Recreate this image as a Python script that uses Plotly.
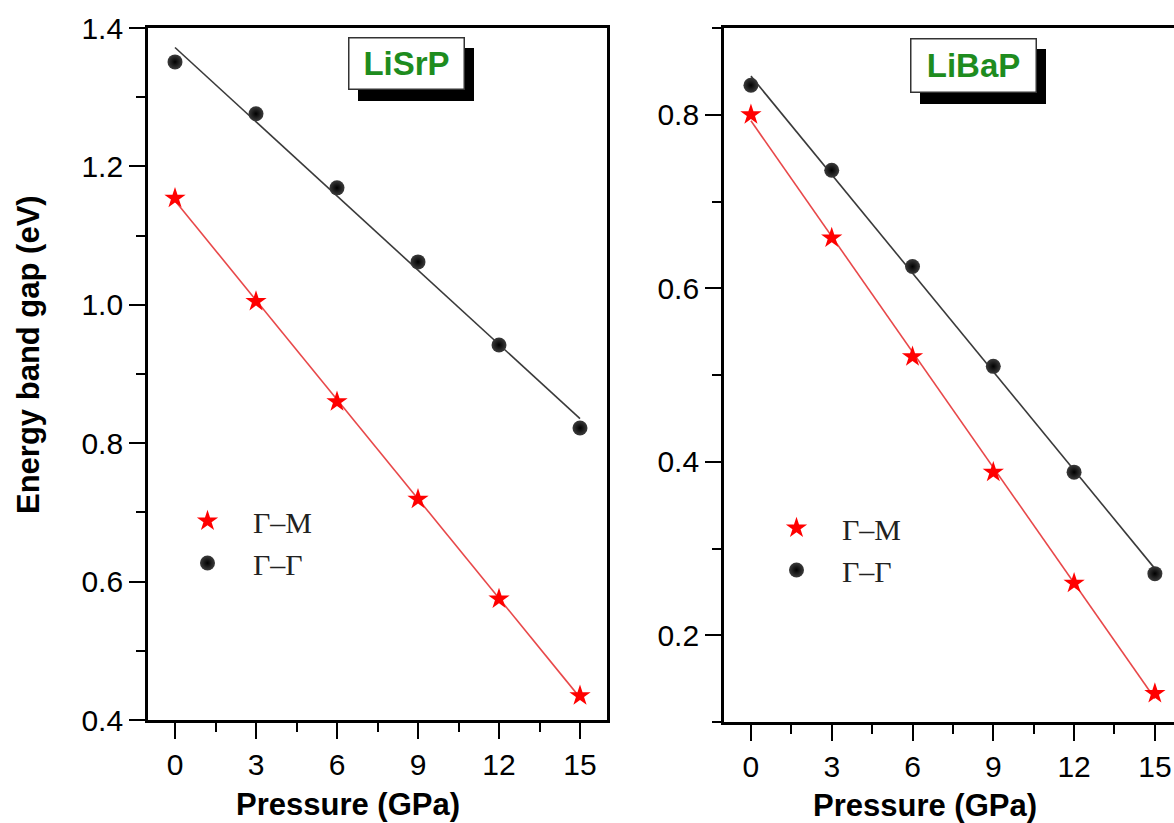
import numpy as np
import plotly.graph_objects as go

# ---------------- data ----------------
pressure = [0, 3, 6, 9, 12, 15]
lisrp_gm = [1.154, 1.005, 0.860, 0.719, 0.575, 0.435]
lisrp_gg = [1.351, 1.276, 1.169, 1.062, 0.942, 0.822]
libap_gm = [0.800, 0.658, 0.521, 0.388, 0.260, 0.133]
libap_gg = [0.834, 0.736, 0.625, 0.510, 0.388, 0.271]
x_ticks = [0, 3, 6, 9, 12, 15]
panel_titles = ["LiSrP", "LiBaP"]
series_names = ["Γ–M", "Γ–Γ"]

W, H = 1174, 823
def px(x):
    return x / W
def py(y):
    return 1 - y / H

RED = "#ff0000"
RED_LINE = "#e8484a"
BLACK_LINE = "#3a3a3a"

fig = go.Figure()

def add_panel(xa, ya, gm, gg, leg):
    xs = np.array(pressure, dtype=float)
    for vals, col in ((gm, RED_LINE), (gg, BLACK_LINE)):
        k, b = np.polyfit(xs, np.array(vals), 1)
        xl = np.array([xs.min(), xs.max()])
        fig.add_trace(go.Scatter(x=xl, y=k * xl + b, mode="lines",
                                 line=dict(color=col, width=1.6),
                                 xaxis=xa, yaxis=ya, showlegend=False,
                                 hoverinfo="skip"))
    fig.add_trace(go.Scatter(x=pressure, y=gm, mode="markers", name=series_names[0],
                             marker=dict(symbol="star", size=16, color=RED,
                                         line=dict(width=0)),
                             xaxis=xa, yaxis=ya, legend=leg, legendgroup=leg + "a"))
    fig.add_trace(go.Scatter(x=pressure, y=gg, mode="markers", name=series_names[1],
                             marker=dict(symbol="circle", size=15, color="#3c3c3c",
                                         gradient=dict(type="radial", color="#000000"),
                                         line=dict(width=0)),
                             xaxis=xa, yaxis=ya, legend=leg, legendgroup=leg + "b"))

add_panel("x", "y", lisrp_gm, lisrp_gg, "legend")
add_panel("x2", "y2", libap_gm, libap_gg, "legend2")

tick_font = dict(family="Liberation Sans, Arial", size=30, color="black")
common_x = dict(tickmode="array", tickvals=x_ticks, ticktext=[str(t) for t in x_ticks],
                ticks="outside", ticklen=16, tickwidth=2, tickcolor="black",
                showline=True, linecolor="black", linewidth=2.8, mirror=True,
                showgrid=False, zeroline=False, tickfont=tick_font, automargin=False,
                minor=dict(dtick=1.5, tick0=0, ticks="outside", ticklen=9,
                           tickwidth=2, tickcolor="black", showgrid=False))
common_y = dict(ticks="outside", ticklen=16, tickwidth=2, tickcolor="black",
                showline=True, linecolor="black", linewidth=2.8,
                showgrid=False, zeroline=False, tickfont=tick_font, automargin=False,
                tickformat=".1f",
                minor=dict(dtick=0.1, ticks="outside", ticklen=9,
                           tickwidth=2, tickcolor="black", showgrid=False))

legend_font = dict(family="Liberation Serif, Times New Roman", size=30, color="#222")

fig.update_layout(
    width=W, height=H,
    margin=dict(l=0, r=0, t=0, b=0),
    paper_bgcolor="white", plot_bgcolor="white",
    xaxis=dict(common_x, domain=[px(148), px(607)], range=[-1, 16], anchor="y"),
    yaxis=dict(common_y, domain=[py(720), py(28)], range=[0.4, 1.4], anchor="x",
               mirror=True, tick0=0.4, dtick=0.2,
               minor=dict(common_y["minor"], tick0=0.4)),
    xaxis2=dict(common_x, domain=[px(724), 1.0], range=[-1.0, 15.71], anchor="y2"),
    yaxis2=dict(common_y, domain=[py(722), py(28)], range=[0.1, 0.9], anchor="x2",
                mirror=False, tick0=0.2, dtick=0.2,
                minor=dict(common_y["minor"], tick0=0.1)),
    legend=dict(x=px(162), y=py(495), xanchor="left", yanchor="top",
                bgcolor="rgba(0,0,0,0)", borderwidth=0, font=legend_font,
                itemwidth=81, tracegroupgap=0, traceorder="grouped"),
    legend2=dict(x=px(751), y=py(502), xanchor="left", yanchor="top",
                 bgcolor="rgba(0,0,0,0)", borderwidth=0, font=legend_font,
                 itemwidth=81, tracegroupgap=0, traceorder="grouped"),
)

# title boxes with drop shadow
boxes = [
    (panel_titles[0], 348, 37, 465, 90),
    (panel_titles[1], 910, 38, 1037, 93),
]
for text, x0, y0, x1, y1 in boxes:
    fig.add_shape(type="rect", xref="paper", yref="paper",
                  x0=px(x0 + 10), x1=px(x1 + 9), y0=py(y0 + 11), y1=py(y1 + 11),
                  fillcolor="black", line=dict(width=0), layer="above")
    fig.add_annotation(xref="paper", yref="paper",
                       x=px((x0 + x1) / 2), y=py((y0 + y1) / 2),
                       xanchor="center", yanchor="middle",
                       text="<b>%s</b>" % text, showarrow=False,
                       font=dict(family="Liberation Sans, Arial", size=33, color="#1e8c1e"),
                       width=x1 - x0 - 3, height=y1 - y0 - 3,
                       bgcolor="white", bordercolor="#333", borderwidth=1.5, borderpad=0)

# axis titles
title_font = dict(family="Liberation Sans, Arial", size=31, color="black")
fig.add_annotation(xref="paper", yref="paper", x=px(348), y=py(804),
                   text="<b>Pressure (GPa)</b>", showarrow=False,
                   xanchor="center", yanchor="middle", font=title_font)
fig.add_annotation(xref="paper", yref="paper", x=px(925), y=py(805),
                   text="<b>Pressure (GPa)</b>", showarrow=False,
                   xanchor="center", yanchor="middle", font=title_font)
fig.add_annotation(xref="paper", yref="paper", x=px(28), y=py(355),
                   text="<b>Energy band gap (eV)</b>", showarrow=False, textangle=-90,
                   xanchor="center", yanchor="middle", font=title_font)

fig.write_html("out.html")
